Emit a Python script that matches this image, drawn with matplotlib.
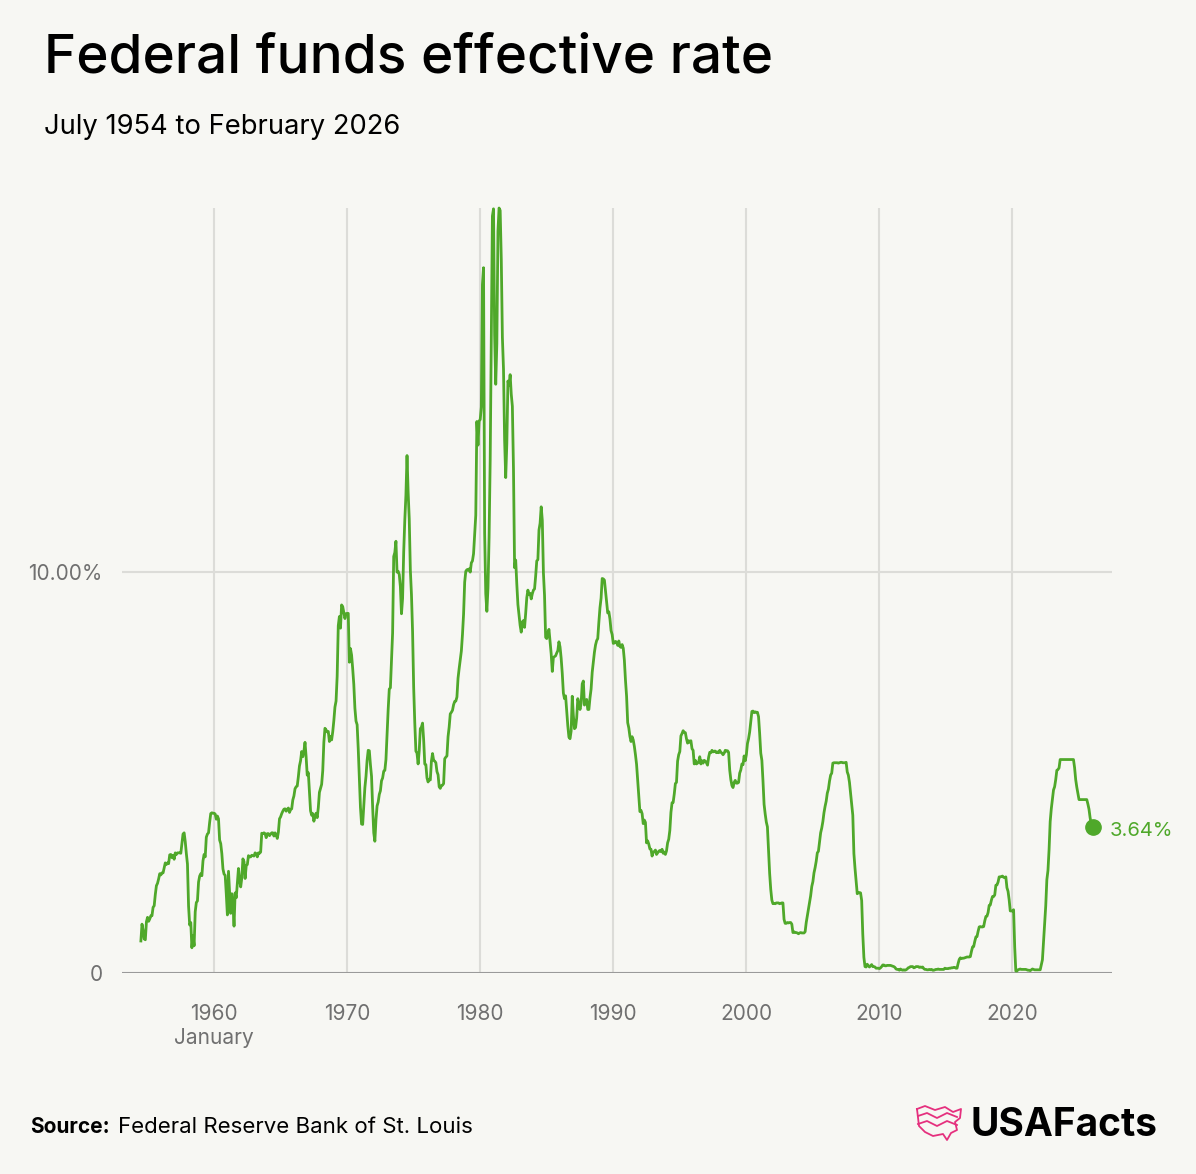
import numpy as np
import matplotlib.pyplot as plt
from matplotlib.lines import Line2D

# Monthly effective federal funds rate (%), July 1954 - February 2026
start_year, start_month = 1954, 7
rates = [
    0.80, 1.22, 1.07, 0.85, 0.83, 1.28,
    1.39, 1.29, 1.35, 1.43, 1.43, 1.64, 1.68, 1.96, 2.18, 2.24, 2.35, 2.48,
    2.45, 2.50, 2.50, 2.62, 2.75, 2.71, 2.75, 2.73, 2.95, 2.96, 2.88, 2.94,
    2.84, 3.00, 2.96, 3.00, 3.00, 3.00, 2.99, 3.24, 3.47, 3.50, 3.28, 2.98,
    2.72, 1.67, 1.20, 1.26, 0.63, 0.93, 0.68, 1.53, 1.76, 1.80, 2.27, 2.42,
    2.48, 2.43, 2.80, 2.96, 2.90, 3.39, 3.47, 3.50, 3.76, 3.98, 4.00, 3.99,
    3.99, 3.97, 3.84, 3.92, 3.85, 3.32, 3.23, 2.98, 2.60, 2.47, 2.44, 1.98,
    1.45, 2.54, 2.02, 1.49, 1.98, 1.73, 1.17, 2.00, 1.88, 2.26, 2.61, 2.33,
    2.15, 2.37, 2.85, 2.78, 2.36, 2.68, 2.71, 2.93, 2.90, 2.90, 2.94, 2.93,
    2.92, 3.00, 2.98, 2.90, 3.00, 2.99, 3.02, 3.49, 3.48, 3.50, 3.48, 3.38,
    3.48, 3.48, 3.43, 3.47, 3.50, 3.50, 3.42, 3.50, 3.45, 3.36, 3.52, 3.85,
    3.90, 3.98, 4.04, 4.09, 4.10, 4.04, 4.09, 4.12, 4.01, 4.08, 4.10, 4.32,
    4.42, 4.60, 4.65, 4.67, 4.90, 5.17, 5.30, 5.53, 5.40, 5.53, 5.76, 5.40,
    4.94, 5.00, 4.53, 4.05, 3.94, 3.98, 3.79, 3.90, 3.99, 3.88, 4.13, 4.51,
    4.61, 4.71, 5.05, 5.76, 6.11, 6.07, 6.02, 6.03, 5.78, 5.91, 5.82, 6.02,
    6.30, 6.64, 6.79, 7.41, 8.67, 8.90, 8.61, 9.19, 9.15, 9.00, 8.85, 8.97,
    8.98, 8.98, 7.76, 8.10, 7.94, 7.60, 7.21, 6.61, 6.29, 6.20, 5.60, 4.90,
    4.14, 3.72, 3.71, 4.16, 4.63, 4.91, 5.31, 5.56, 5.55, 5.20, 4.91, 4.14,
    3.50, 3.29, 3.83, 4.17, 4.27, 4.46, 4.55, 4.80, 4.87, 5.04, 5.06, 5.33,
    5.94, 6.58, 7.09, 7.12, 7.84, 8.49, 10.40, 10.50, 10.78, 10.01, 10.03, 9.95,
    9.65, 8.97, 9.35, 10.51, 11.31, 11.93, 12.92, 12.01, 11.34, 10.06, 9.45, 8.53,
    7.13, 6.24, 5.54, 5.49, 5.22, 5.55, 6.10, 6.14, 6.24, 5.82, 5.22, 5.20,
    4.87, 4.77, 4.84, 4.82, 5.29, 5.48, 5.31, 5.29, 5.25, 5.03, 4.95, 4.65,
    4.61, 4.68, 4.69, 4.73, 5.35, 5.39, 5.42, 5.90, 6.14, 6.47, 6.51, 6.56,
    6.70, 6.78, 6.79, 6.89, 7.36, 7.60, 7.81, 8.04, 8.45, 8.96, 9.76, 10.03,
    10.07, 10.06, 10.09, 10.01, 10.24, 10.29, 10.47, 10.94, 11.43, 13.77, 13.18, 13.78,
    13.82, 14.13, 17.19, 17.61, 10.98, 9.47, 9.03, 9.61, 10.87, 12.81, 15.85, 18.90,
    19.08, 15.93, 14.70, 15.72, 18.52, 19.10, 19.04, 17.82, 15.87, 15.08, 13.31, 12.37,
    13.22, 14.78, 14.68, 14.94, 14.45, 14.15, 12.59, 10.12, 10.31, 9.71, 9.20, 8.95,
    8.68, 8.51, 8.77, 8.80, 8.63, 8.98, 9.37, 9.56, 9.45, 9.48, 9.34, 9.47,
    9.56, 9.59, 9.91, 10.29, 10.32, 11.06, 11.23, 11.64, 11.30, 9.99, 9.43, 8.38,
    8.35, 8.50, 8.58, 8.27, 7.97, 7.53, 7.88, 7.90, 7.92, 7.99, 8.05, 8.27,
    8.14, 7.86, 7.48, 6.99, 6.85, 6.92, 6.56, 6.17, 5.89, 5.85, 6.04, 6.91,
    6.43, 6.10, 6.13, 6.37, 6.85, 6.73, 6.58, 6.73, 7.22, 7.29, 6.69, 6.77,
    6.83, 6.58, 6.58, 6.87, 7.09, 7.51, 7.75, 8.01, 8.19, 8.30, 8.35, 8.76,
    9.12, 9.36, 9.85, 9.84, 9.81, 9.53, 9.24, 8.99, 9.02, 8.84, 8.55, 8.45,
    8.23, 8.24, 8.28, 8.26, 8.18, 8.29, 8.15, 8.13, 8.20, 8.11, 7.81, 7.31,
    6.91, 6.25, 6.12, 5.91, 5.78, 5.90, 5.82, 5.66, 5.45, 5.21, 4.81, 4.43,
    4.03, 4.06, 3.98, 3.73, 3.82, 3.76, 3.25, 3.30, 3.22, 3.10, 3.09, 2.92,
    3.02, 3.03, 3.07, 2.96, 3.00, 3.04, 3.06, 3.03, 3.09, 2.99, 3.02, 2.96,
    3.05, 3.25, 3.34, 3.56, 4.01, 4.25, 4.26, 4.47, 4.73, 4.76, 5.29, 5.45,
    5.53, 5.92, 5.98, 6.05, 6.01, 6.00, 5.85, 5.74, 5.80, 5.76, 5.80, 5.60,
    5.56, 5.22, 5.31, 5.22, 5.24, 5.27, 5.40, 5.22, 5.30, 5.24, 5.31, 5.29,
    5.25, 5.19, 5.39, 5.51, 5.50, 5.56, 5.52, 5.54, 5.54, 5.50, 5.52, 5.50,
    5.56, 5.51, 5.49, 5.45, 5.49, 5.56, 5.54, 5.55, 5.51, 5.07, 4.83, 4.68,
    4.63, 4.76, 4.81, 4.74, 4.74, 4.76, 4.99, 5.07, 5.22, 5.20, 5.42, 5.30,
    5.45, 5.73, 5.85, 6.02, 6.27, 6.53, 6.54, 6.50, 6.52, 6.51, 6.51, 6.40,
    5.98, 5.49, 5.31, 4.80, 4.21, 3.97, 3.77, 3.65, 3.07, 2.49, 2.09, 1.82,
    1.73, 1.74, 1.73, 1.75, 1.75, 1.75, 1.73, 1.74, 1.75, 1.75, 1.34, 1.24,
    1.24, 1.26, 1.25, 1.26, 1.26, 1.22, 1.01, 1.03, 1.01, 1.01, 1.00, 0.98,
    1.00, 1.01, 1.00, 1.00, 1.00, 1.03, 1.26, 1.43, 1.61, 1.76, 1.93, 2.16,
    2.28, 2.50, 2.63, 2.79, 3.00, 3.04, 3.26, 3.50, 3.62, 3.78, 4.00, 4.16,
    4.29, 4.49, 4.59, 4.79, 4.94, 4.99, 5.24, 5.25, 5.25, 5.25, 5.25, 5.24,
    5.25, 5.26, 5.26, 5.25, 5.25, 5.25, 5.26, 5.02, 4.94, 4.76, 4.49, 4.24,
    3.94, 2.98, 2.61, 2.28, 1.98, 2.00, 2.01, 2.00, 1.81, 0.97, 0.39, 0.16,
    0.15, 0.22, 0.18, 0.15, 0.18, 0.21, 0.16, 0.16, 0.15, 0.12, 0.12, 0.12,
    0.11, 0.13, 0.16, 0.20, 0.20, 0.18, 0.18, 0.19, 0.19, 0.19, 0.19, 0.18,
    0.17, 0.16, 0.14, 0.10, 0.09, 0.09, 0.07, 0.10, 0.08, 0.07, 0.08, 0.07,
    0.08, 0.10, 0.13, 0.14, 0.16, 0.16, 0.16, 0.13, 0.14, 0.16, 0.16, 0.16,
    0.14, 0.15, 0.14, 0.15, 0.11, 0.09, 0.09, 0.08, 0.08, 0.09, 0.08, 0.09,
    0.07, 0.07, 0.08, 0.09, 0.09, 0.10, 0.09, 0.09, 0.09, 0.09, 0.09, 0.12,
    0.11, 0.11, 0.11, 0.12, 0.12, 0.13, 0.13, 0.14, 0.14, 0.12, 0.12, 0.24,
    0.34, 0.38, 0.36, 0.37, 0.37, 0.38, 0.39, 0.40, 0.40, 0.40, 0.41, 0.54,
    0.65, 0.66, 0.79, 0.90, 0.91, 1.04, 1.15, 1.16, 1.15, 1.15, 1.16, 1.30,
    1.41, 1.42, 1.51, 1.69, 1.70, 1.82, 1.91, 1.91, 1.95, 2.19, 2.20, 2.27,
    2.40, 2.40, 2.41, 2.42, 2.39, 2.38, 2.40, 2.13, 2.04, 1.83, 1.55, 1.55,
    1.55, 1.58, 0.65, 0.05, 0.05, 0.08, 0.09, 0.10, 0.09, 0.09, 0.09, 0.09,
    0.09, 0.08, 0.07, 0.07, 0.06, 0.08, 0.10, 0.09, 0.08, 0.08, 0.08, 0.08,
    0.08, 0.08, 0.20, 0.33, 0.77, 1.21, 1.68, 2.33, 2.56, 3.08, 3.78, 4.10,
    4.33, 4.57, 4.65, 4.83, 5.06, 5.08, 5.12, 5.33, 5.33, 5.33, 5.33, 5.33,
    5.33, 5.33, 5.33, 5.33, 5.33, 5.33, 5.33, 5.33, 5.13, 4.83, 4.64, 4.48,
    4.33, 4.33, 4.33, 4.33, 4.33, 4.33, 4.33, 4.33, 4.22, 4.09, 3.88, 3.72,
    3.64, 3.64,
]
year_ticks = [1960, 1970, 1980, 1990, 2000, 2010, 2020]

months = np.arange(len(rates))
t = start_year + (start_month - 1 + months) / 12.0

green = '#4fa82a'
grey_text = '#707070'
bg = '#f7f7f3'

fig = plt.figure(figsize=(11.96, 11.74), dpi=100, facecolor=bg)
ax = fig.add_axes([0.102, 0.1712, 0.828, 0.6516], facecolor=bg)

for yr in year_ticks:
    ax.axvline(yr, color='#dcdcd8', linewidth=1.5, zorder=0)
ax.axhline(10, color='#dcdcd8', linewidth=1.5, zorder=0)
ax.axhline(0, color='#9a9a9a', linewidth=1.5, zorder=1)

ax.plot(t, rates, color=green, linewidth=2.0, solid_joinstyle='round', zorder=3, clip_on=False)
ax.plot(t[-1], rates[-1], 'o', color=green, markersize=11, zorder=4, clip_on=False)
ax.text(t[-1] + 1.2, rates[-1] - 0.1, '%.2f%%' % rates[-1], color=green, fontsize=14.5,
        va='center', ha='left', family='Inter')

ax.set_xlim(1953.08, 2027.5)
ax.set_ylim(0, 19.1)
ax.set_xticks(year_ticks)
ax.set_xticklabels([str(y) for y in year_ticks])
ax.set_yticks([0, 10])
ax.set_yticklabels(['0', '10.00%'])
ax.tick_params(length=0, labelsize=15, labelcolor=grey_text, pad=14)
ax.tick_params(axis='x', pad=22)
for lab in ax.get_xticklabels() + ax.get_yticklabels():
    lab.set_family('Inter')
for s in ax.spines.values():
    s.set_visible(False)

ax.text(1960, -0.072, 'January', transform=ax.get_xaxis_transform(), ha='center', va='top',
        fontsize=15, color=grey_text, family='Inter')

# Title block
fig.text(0.037, 0.950, 'Federal funds effective rate', fontsize=39.5, fontweight='medium',
         family='Inter', va='center', ha='left', color='black')
fig.text(0.037, 0.892, 'July 1954 to February 2026', fontsize=19.7, family='Inter',
         va='center', ha='left', color='black')

# Source
fig.text(0.025, 0.040, 'Source:', fontsize=15, fontweight='bold', family='Inter',
         va='center', ha='left')
fig.text(0.099, 0.040, 'Federal Reserve Bank of St. Louis', fontsize=16, family='Inter',
         va='center', ha='left')

# Logo
fig.text(0.968, 0.041, 'USAFacts', fontsize=28, fontweight='bold', family='Inter',
         va='center', ha='right', color='black')
pink = '#e5307e'
W, H = 1196.0, 1174.0
ox, oy = 917, 1106
outline = [(0, 3), (8, 0), (18, 4), (28, 1), (36, 6), (44, 3), (43, 12), (38, 16),
           (40, 24), (34, 27), (30, 34), (26, 28), (16, 30), (8, 26), (2, 20), (0, 3)]
xs = [(ox + p[0]) / W for p in outline]
ys = [1 - (oy + p[1]) / H for p in outline]
fig.add_artist(Line2D(xs, ys, color=pink, linewidth=1.3, transform=fig.transFigure))
for k in (10, 18):
    wx = [(ox + px) / W for px in (1, 10, 20, 30, 40)]
    wy = [1 - (oy + k + d) / H for d in (0, -3, 2, -3, 1)]
    fig.add_artist(Line2D(wx, wy, color=pink, linewidth=1.3, transform=fig.transFigure))

plt.savefig('out.png', dpi=100, facecolor=bg)
